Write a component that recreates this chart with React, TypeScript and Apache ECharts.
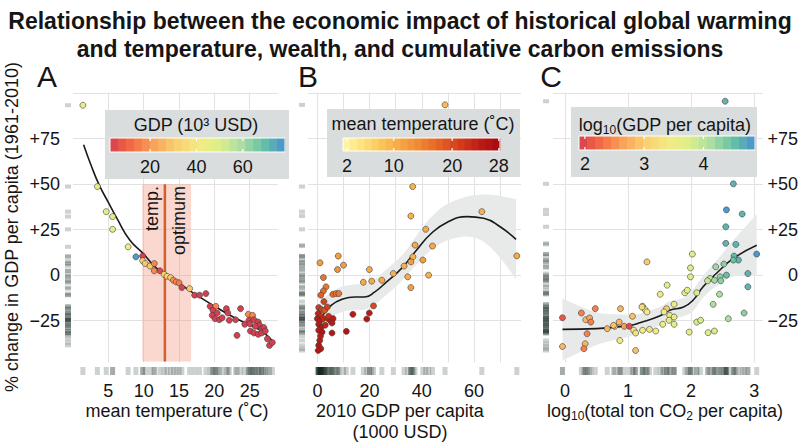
import React, { useEffect, useRef } from "react";
import * as echarts from "echarts";

const FONT = "'Liberation Sans', Arial, Helvetica, sans-serif";
const INK = "#151515";

// ---------- Panel A: mean temperature vs % change, coloured by GDP (10^3 USD)
const tempA = [1.4, 3.45, 4.7, 5.6, 5.6, 7.8, 8.9, 9.85, 9.85, 10.2, 10.9, 11.5, 11.5, 12.3, 12.9, 13.3, 13.8, 14.2, 14.6, 15.0, 15.4, 16.5, 17.2, 17.9, 18.8, 19.4, 20.2, 19.8, 20.4, 19.7, 20.1, 20.7, 21.1, 21.7, 21.9, 22.1, 23.0, 23.7, 23.2, 24.3, 24.8, 25.4, 24.9, 25.6, 26.2, 26.4, 25.8, 26.7, 27.0, 25.1, 25.6, 26.2, 26.7, 27.2, 25.0, 27.8, 27.5, 28.2];
const changeA = [93.4, 48.7, 34.9, 32.2, 25.2, 15.6, 10.1, 10.5, 7.9, 6.4, 5.0, 6.4, 2.4, 2.4, 0.4, -0.6, -1.3, -2.8, -3.7, -4.2, -6.8, -7.4, -11, -11, -10.1, -17.1, -17.1, -19.3, -20.8, -22.1, -23.9, -24.5, -23.4, -18.4, -20.8, -24.8, -24.5, -18.4, -33.1, -27.0, -21.5, -22.1, -24.8, -24.5, -25.8, -27.6, -28.1, -29.4, -28.8, -30.7, -31.8, -32.5, -31.8, -30.7, -26.7, -38.6, -35, -37];
const gdpA = [45, 45, 48, 45, 45, 42, 76, 3, 32, 30, 30, 17, 17, 5, 32, 32, 30, 18, 17, 15, 4, 30, 3, 3, 3, 3, 17, 3, 3, 3, 3, 3, 3, 3, 3, 3, 3, 3, 3, 3, 17, 17, 3, 3, 3, 3, 3, 3, 3, 3, 3, 3, 3, 3, 3, 3, 3, 3];
const curveA_temp = [1.5, 2.5, 3.7, 5, 6.2, 8, 9.9, 11.5, 12.8, 15, 17.5, 20, 22.2, 24.5, 26.9, 28.5];
const curveA_change = [71.7, 61, 49.6, 40, 31.3, 19.5, 12, 5, 0.9, -4.5, -11, -17, -22, -26.5, -31.3, -37.7];
const optimumTemp = [13];
const optimumRange = [9.8, 16.7];
const optimumSpan = [-47.5, 50];

// ---------- Panel B: 2010 GDP per capita vs % change, coloured by mean temperature
const gdpB = [48.9, 36.5, 35.8, 63, 41.5, 37.4, 44.1, 36.6, 35.8, 40.4, 76.4, 8.0, 1.0, 10.0, 7.7, 2.3, 3.3, 2.3, 1.3, 5.9, 7.2, 8.2, 19.9, 17.6, 20.8, 24.7, 29.1, 33.2, 34.6, 35.8, 42.6, 21.5, 13.6, 19.9, 18.9, 11.1, 0.5, 1.5, 2.8, 3.8, 0.3, 1.3, 0.0, 0.9, 2.2, 0.5, 1.5, 0.5, 1.8, 4.1, 5.1, 4.3, 6.0, 5.6, 5.6, 0.9, 0.5, 1.3, 0.3, 1.2, 3.0, 2.5];
const changeB = [93.6, 48.7, 32.5, 34.9, 25.2, 16.5, 16.0, 10.1, 7.3, 8.3, 10.6, 10.5, 6.8, 5.5, 3.1, -1.3, -6.4, -8.7, -11, -10.5, -10.1, -10.1, 3.1, -3.9, -3.3, -2.8, 0.9, 5.0, -0.9, -6.8, 0, -16.9, -21.5, -20.8, -24.1, -30.9, -17.8, -18.9, -19.3, -17.5, -21.1, -22.6, -23.9, -25.2, -23.9, -27, -28.5, -30.3, -31.3, -23.9, -25.2, -22.6, -23.9, -26.3, -31.8, -35.9, -38.6, -40.4, -41.4, -33.5, -27.5, -14.5];
const tempB = [9, 10, 10, 10, 11, 11, 11, 10, 12, 12, 11, 12, 12, 12, 13, 16, 16, 17, 18, 17, 16, 16, 11, 11, 11, 11, 10, 10, 11, 12, 10, 20, 25, 25, 26, 26, 21, 21, 19, 21, 24, 23, 25, 25, 24, 25, 26, 25, 26, 24, 25, 23, 25, 25, 26, 25, 26, 25, 26, 25, 24, 21];
const curveB_gdp = [0.8, 2.1, 5.4, 9.2, 14.3, 18.1, 22, 25.8, 30.9, 34.2, 38.1, 43.3, 49.6, 57.4, 63.7, 70, 76.1];
const curveB_change = [-25, -22, -16.5, -13.4, -12, -12, -9.2, -4.6, 1.8, 7, 14, 22.5, 29, 32.2, 31.3, 26.6, 19.7];
const bandB_low = [-35, -31, -23.5, -20.4, -19, -19, -16.2, -11.6, -5.2, 0, 6, 13.5, 19, 21.2, 18.3, 9.6, -2.3];
const bandB_high = [-15, -13, -9.5, -6.4, -5, -5, -2.2, 2.4, 8.8, 14, 22, 31.5, 39, 43.2, 44.3, 43.6, 41.7];

// ---------- Panel C: log10 total CO2 per capita vs % change, coloured by log10 GDP per capita
const co2C = [2.54, 2.67, 2.56, 2.81, 2.55, 2.55, 2.71, 2.02, 3.04, 2.68, 2.75, 2.67, 2.52, 2.39, 1.99, 2.9, 2.56, 2.46, 1.99, 2.3, 1.3, 2.26, 2.37, 2.47, 2.9, 1.62, 1.9, 1.94, 1.51, 2.09, 2.45, 1.73, 1.61, 2.35, 1.23, 1.27, 1.3, 1.57, 1.66, 1.73, 1.65, 1.73, 1.55, 2.09, 2.15, 2.84, 2.59, 1.97, 2.27, 2.37, 1.23, 1.34, 1.44, -0.04, 0.26, 0.48, 0.33, 0.39, 0.41, 0.35, 0.32, 0.3, -0.04, 0.67, 0.79, 0.86, 0.88, 0.94, 1.02, 1.07, 1.09, 1.12, 0.87, 1.12, 0.77, 1.22];
const changeC = [95.6, 50.2, 35.9, 33.6, 26.6, 17.5, 16.9, 11.6, 11.6, 10.5, 8.3, 8.3, 6.1, 4.6, 4.0, 0.9, 0.0, -0.9, -0.9, -1.8, 7.3, -3.1, -2.8, -3.1, -6.4, -5.5, -9.7, -8.3, -10.5, -9.7, -10.5, -16, -18.4, -16, -17.1, -18.9, -20.2, -20.2, -22.1, -23, -24.8, -27, -27, -25.8, -24.8, -20.8, -23.9, -31.3, -31.6, -30.7, -30.3, -29.8, -30.7, -23.4, -20.8, -18.4, -24.5, -23.5, -25.8, -32.2, -37.7, -40.4, -39.2, -29.4, -28.1, -25.8, -18.4, -28.1, -28.1, -22.6, -30.3, -31.8, -35.9, -41.4, -27.6, -17.5];
const lgdpC = [4.6, 4.6, 4.8, 4.6, 4.6, 4.6, 4.6, 3.7, 4.8, 4.55, 4.6, 4.5, 4.3, 4.2, 3.7, 4.6, 4.5, 4.3, 3.7, 4.0, 3.0, 3.9, 4.2, 4.3, 4.6, 3.6, 3.7, 3.6, 3.5, 3.8, 4.1, 3.5, 3.0, 4.1, 3.3, 3.4, 3.4, 3.5, 3.6, 3.6, 3.6, 3.6, 3.5, 3.8, 3.8, 4.3, 4.1, 3.6, 3.7, 3.8, 3.4, 3.3, 3.4, 2.1, 2.4, 2.4, 2.8, 2.7, 2.4, 2.4, 2.8, 2.4, 2.8, 2.8, 2.9, 2.8, 2.8, 2.6, 2.0, 2.9, 3.4, 3.3, 3.4, 2.9, 2.9, 3.2];
const curveC_co2 = [-0.04, 0.5, 1.03, 1.2, 1.5, 1.66, 1.88, 2.03, 2.19, 2.4, 2.67, 3.04];
const curveC_change = [-29.8, -29.4, -27.6, -26, -22.5, -19.3, -17.5, -13.8, -6.4, 0.9, 9.2, 16.5];
const bandC_low = [-46.8, -38.4, -33.6, -31, -27.5, -24.3, -22.5, -19.8, -12.4, -6.1, -0.8, -0.5];
const bandC_high = [-12.8, -20.4, -21.6, -21, -17.5, -14.3, -12.5, -7.8, -0.4, 7.9, 19.2, 33.5];

// ---------- ticks and legend scales
const yTicks = [-25, 0, 25, 50, 75];
const xTicksA = [5, 10, 15, 20, 25];
const xTicksB = [0, 20, 40, 60];
const xTicksC = [0, 1, 2, 3];
const legendTicksA = [20, 40, 60];
const legendTicksB = [2, 10, 20, 28];
const legendTicksC = [2, 3, 4];
const legendRangeA = [2.7, 78.2];
const legendRangeB = [1.3, 28.2];
const legendRangeC = [1.9, 4.87];

const spectral = ["#d53e4f", "#f46d43", "#f9a25a", "#f8cf6e", "#f4ea83", "#dcef8a", "#abdda4", "#66c2a5", "#4a90d0"];
const ylorrd = ["#fff9a8", "#fde27c", "#fac45a", "#f5a542", "#ee8432", "#e35f24", "#d33a1a", "#bc1c14", "#a30a10"];

function hexToRgb(h: string) {
  const n = parseInt(h.slice(1), 16);
  return [(n >> 16) & 255, (n >> 8) & 255, n & 255];
}
function makeScale(pal: string[], range: number[]) {
  return (v: number) => {
    let t = (v - range[0]) / (range[1] - range[0]);
    t = Math.max(0, Math.min(1, t));
    const p = t * (pal.length - 1);
    const i = Math.min(Math.floor(p), pal.length - 2);
    const f = p - i;
    const a = hexToRgb(pal[i]);
    const b = hexToRgb(pal[i + 1]);
    return `rgb(${a.map((x, k) => Math.round(x + (b[k] - x) * f)).join(",")})`;
  };
}
const scaleA = makeScale(spectral, legendRangeA);
const scaleB = makeScale(ylorrd, legendRangeB);
const scaleC = makeScale(spectral, legendRangeC);

const Y_MIN = -48;
const Y_MAX = 100.4;
const GRID_TOP = 92.5;
const GRID_H = 270;
const GRID_LINE = "#e2e2e2";

const fmtY = (v: number) =>
  yTicks.includes(v) ? (v > 0 ? "+" + v : v < 0 ? "\u2212" + Math.abs(v) : "0") : "";

function mainX(idx: number, min: number, max: number, step: number, ticks: number[]) {
  return {
    type: "value", gridIndex: idx, min, max, minInterval: step, maxInterval: step,
    axisLine: { show: false, onZero: false }, axisTick: { show: false },
    splitLine: { show: true, showMinLine: false, showMaxLine: false, lineStyle: { color: GRID_LINE, width: 1 } },
    axisLabel: {
      margin: 19, fontSize: 18, fontFamily: FONT, color: INK,
      formatter: (v: number) => (ticks.includes(v) ? String(v) : ""),
    },
  };
}
function mainY(idx: number, labels: "left" | "right" | "none") {
  return {
    type: "value", gridIndex: idx, min: Y_MIN, max: Y_MAX, minInterval: 25, maxInterval: 25,
    position: labels === "right" ? "right" : "left",
    axisLine: { show: false, onZero: false }, axisTick: { show: false },
    splitLine: { show: true, showMinLine: false, showMaxLine: false, lineStyle: { color: GRID_LINE, width: 1 } },
    axisLabel: {
      show: labels !== "none", fontSize: 18, fontFamily: FONT, color: INK,
      margin: labels === "right" ? 35 : 13, align: "right", formatter: fmtY,
    },
  };
}
const hiddenAxis = (idx: number, min: number, max: number) => ({
  type: "value", gridIndex: idx, min, max, show: false,
  axisLine: { onZero: false },
});

function scatter(idx: number, xs: number[], ys: number[], cs: number[], scale: (v: number) => string) {
  return {
    type: "scatter", xAxisIndex: idx, yAxisIndex: idx, z: 5, symbolSize: 6,
    data: xs.map((x, i) => [x, ys[i], cs[i]]),
    itemStyle: { color: (p: any) => scale(p.value[2]), borderColor: "#3c3c3c", borderWidth: 0.6, opacity: 1 },
    silent: true,
  };
}
function curve(idx: number, xs: number[], ys: number[]) {
  return {
    type: "line", xAxisIndex: idx, yAxisIndex: idx, z: 4, smooth: 0.5, symbol: "none",
    data: xs.map((x, i) => [x, ys[i]]), lineStyle: { color: "#1a1a1a", width: 1.6 }, silent: true,
  };
}

// Catmull-Rom sampling of pixel points (for a smooth ribbon outline)
function smoothPts(pts: number[][], steps = 8) {
  const out: number[][] = [];
  for (let i = 0; i < pts.length - 1; i++) {
    const p0 = pts[Math.max(0, i - 1)];
    const p1 = pts[i];
    const p2 = pts[i + 1];
    const p3 = pts[Math.min(pts.length - 1, i + 2)];
    for (let s = 0; s < steps; s++) {
      const t = s / steps;
      const t2 = t * t;
      const t3 = t2 * t;
      const f = (a: number, b: number, c: number, d: number) =>
        0.5 * (2 * b + (-a + c) * t + (2 * a - 5 * b + 4 * c - d) * t2 + (-a + 3 * b - 3 * c + d) * t3);
      out.push([f(p0[0], p1[0], p2[0], p3[0]), f(p0[1], p1[1], p2[1], p3[1])]);
    }
  }
  out.push(pts[pts.length - 1]);
  return out;
}
function band(idx: number, xs: number[], lo: number[], hi: number[]) {
  return {
    type: "custom", xAxisIndex: idx, yAxisIndex: idx, z: 1, silent: true, clip: true,
    data: xs.map((x, i) => [x, lo[i], hi[i]]),
    encode: { x: 0, y: [1, 2] },
    renderItem: (params: any, api: any) => {
      if (params.dataIndex !== 0) return null;
      const top = smoothPts(xs.map((x, i) => api.coord([x, hi[i]])));
      const bot = smoothPts(xs.map((x, i) => api.coord([x, lo[i]]))).reverse();
      return {
        type: "polygon",
        shape: { points: top.concat(bot) },
        style: { fill: "#e8e9e9" },
      };
    },
  };
}
const RUG = "#14261c";
function yRug(idx: number, ys: number[]) {
  return {
    type: "scatter", xAxisIndex: idx, yAxisIndex: idx, symbol: "rect", symbolSize: [6, 4], silent: true,
    data: ys.map((y) => [0.5, y]), itemStyle: { color: RUG, opacity: 0.21 },
  };
}
function xRug(idx: number, xs: number[]) {
  return {
    type: "scatter", xAxisIndex: idx, yAxisIndex: idx, symbol: "rect", symbolSize: [5, 8], silent: true,
    data: xs.map((x) => [x, 0.5]), itemStyle: { color: RUG, opacity: 0.21 },
  };
}

function txt(x: number, y: number, text: string, size = 18, extra: any = {}) {
  return {
    type: "text", x, y, z: 100, ...extra,
    style: { text, fontSize: size, fontFamily: FONT, fill: INK, align: "center", verticalAlign: "middle", ...(extra.style || {}) },
  };
}

function legend(
  box: number[], title: any, bar: number[], range: number[], ticks: number[], labelY: number,
  scale: (v: number) => string,
) {
  const [bx, by, bw, bh] = box;
  const [x0, x1, y0, h] = bar;
  const els: any[] = [{ type: "rect", z: 99, shape: { x: bx, y: by, width: bw, height: bh }, style: { fill: "#dadddd" } }];
  els.push(title);
  const n = 22;
  const w = (x1 - x0) / n;
  for (let i = 0; i < n; i++) {
    const v = range[0] + ((i + 0.5) / n) * (range[1] - range[0]);
    els.push({ type: "rect", z: 100, shape: { x: x0 + i * w, y: y0, width: w + 0.6, height: h }, style: { fill: scale(v) } });
  }
  els.push({ type: "rect", z: 101, shape: { x: x0, y: y0, width: x1 - x0, height: h }, style: { fill: "none", stroke: "#ffffff", lineWidth: 1 } });
  ticks.forEach((t) => {
    const px = x0 + ((t - range[0]) / (range[1] - range[0])) * (x1 - x0);
    els.push({ type: "line", z: 101, shape: { x1: px, y1: y0, x2: px, y2: y0 + 3 }, style: { stroke: "#fff", lineWidth: 1.2 } });
    els.push({ type: "line", z: 101, shape: { x1: px, y1: y0 + h - 3, x2: px, y2: y0 + h }, style: { stroke: "#fff", lineWidth: 1.2 } });
    els.push(txt(px, labelY, String(t), 18, { z: 101 }));
  });
  return els;
}

export default function App() {
  const ref = useRef<HTMLDivElement>(null);
  useEffect(() => {
    document.body.style.margin = "0";
    const chart = echarts.init(ref.current!, null, { renderer: "svg" });
    const gridMain = [
      { left: 73, width: 205 },
      { left: 308, width: 213 },
      { left: 553, width: 210 },
    ];
    const gridYRug = [{ left: 65 }, { left: 299 }, { left: 543 }];
    const grids: any[] = [
      ...gridMain.map((g) => ({ ...g, top: GRID_TOP, height: GRID_H, outerBoundsMode: "none" })),
      ...gridYRug.map((g) => ({ ...g, width: 6, top: GRID_TOP, height: GRID_H, outerBoundsMode: "none" })),
      ...gridMain.map((g) => ({ ...g, top: 367, height: 8, outerBoundsMode: "none" })),
    ];
    const xRanges = [[0, 29, 5], [-3.6, 78, 10], [-0.19, 3.14, 1]];
    const xTickSets = [xTicksA, xTicksB, xTicksC];
    const xAxes: any[] = [
      ...xRanges.map((r, i) => mainX(i, r[0], r[1], r[2], xTickSets[i])),
      hiddenAxis(3, 0, 1), hiddenAxis(4, 0, 1), hiddenAxis(5, 0, 1),
      hiddenAxis(6, 0, 29), hiddenAxis(7, -3.6, 78), hiddenAxis(8, -0.19, 3.14),
    ];
    const yAxes: any[] = [
      mainY(0, "left"), mainY(1, "none"), mainY(2, "right"),
      hiddenAxis(3, Y_MIN, Y_MAX), hiddenAxis(4, Y_MIN, Y_MAX), hiddenAxis(5, Y_MIN, Y_MAX),
      hiddenAxis(6, 0, 1), hiddenAxis(7, 0, 1), hiddenAxis(8, 0, 1),
    ];

    const series: any[] = [
      // Panel A temperature optimum
      {
        type: "line", xAxisIndex: 0, yAxisIndex: 0, z: 2, symbol: "none", silent: true,
        data: optimumSpan.map((y) => [optimumTemp[0], y]),
        lineStyle: { color: "#d2602b", width: 2.5 },
        markArea: {
          silent: true,
          itemStyle: { color: "rgba(243,150,130,0.38)" },
          data: [[{ coord: [optimumRange[0], optimumSpan[1]] }, { coord: [optimumRange[1], optimumSpan[0]] }]],
        },
      },
      curve(0, curveA_temp, curveA_change),
      scatter(0, tempA, changeA, gdpA, scaleA),
      band(1, curveB_gdp, bandB_low, bandB_high),
      curve(1, curveB_gdp, curveB_change),
      scatter(1, gdpB, changeB, tempB, scaleB),
      band(2, curveC_co2, bandC_low, bandC_high),
      curve(2, curveC_co2, curveC_change),
      scatter(2, co2C, changeC, lgdpC, scaleC),
      yRug(3, changeA), yRug(4, changeB), yRug(5, changeC),
      xRug(6, tempA), xRug(7, gdpB), xRug(8, co2C),
    ];

    const graphics: any[] = [
      txt(12, 227, "% change in GDP per capita (1961-2010)", 18, { rotation: Math.PI / 2 }),
      txt(177, 411, "mean temperature (\u02daC)"),
      txt(400, 411, "2010 GDP per capita"),
      txt(400, 432, "(1000 USD)"),
      {
        type: "text", x: 665, y: 411, z: 100,
        style: {
          text: "{n|log}{s|10}{n|(total ton CO}{s|2}{n| per capita)}",
          align: "center", verticalAlign: "middle", fill: INK,
          rich: {
            n: { fontSize: 18, fontFamily: FONT, lineHeight: 22, fill: INK },
            s: { fontSize: 12, fontFamily: FONT, lineHeight: 12, verticalAlign: "bottom", fill: INK },
          },
        },
      },
      txt(47, 76, "A", 30),
      txt(308, 76, "B", 30),
      txt(551, 76, "C", 30),
      txt(152, 186, "temp.", 18, { rotation: Math.PI / 2, style: { align: "right" }, z: 50 }),
      txt(179, 186, "optimum", 18, { rotation: Math.PI / 2, style: { align: "right" }, z: 50 }),
      ...legend([105, 110, 184, 69], txt(196, 125, "GDP (10\u00b3 USD)", 18, { z: 101 }),
        [110, 285, 138, 14], legendRangeA, legendTicksA, 167, scaleA),
      ...legend([327, 109, 193, 68], txt(423, 124, "mean temperature (\u02daC)", 18, { z: 101 }),
        [343, 500, 138, 13], legendRangeB, legendTicksB, 166, scaleB),
      ...legend([571, 107, 186, 70], {
        type: "text", x: 665, y: 125, z: 101,
        style: {
          text: "{n|log}{s|10}{n|(GDP per capita)}",
          align: "center", verticalAlign: "middle", fill: INK,
          rich: {
            n: { fontSize: 18, fontFamily: FONT, lineHeight: 22, fill: INK },
            s: { fontSize: 12, fontFamily: FONT, lineHeight: 12, verticalAlign: "bottom", fill: INK },
          },
        },
      }, [579, 755, 136, 14], legendRangeC, legendTicksC, 163.5, scaleC),
    ];

    chart.setOption({
      animation: false,
      backgroundColor: "#ffffff",
      title: {
        text: "Relationship between the economic impact of historical global warming\nand temperature, wealth, and cumulative carbon emissions",
        left: "center", top: 2,
        textStyle: { fontSize: 23, fontWeight: "bold", fontFamily: FONT, color: INK, lineHeight: 28 },
      },
      grid: grids,
      xAxis: xAxes,
      yAxis: yAxes,
      series,
      graphic: { elements: graphics },
    });
    return () => chart.dispose();
  }, []);
  return <div ref={ref} style={{ position: "absolute", left: 0, top: 0, width: 800, height: 442 }} />;
}
